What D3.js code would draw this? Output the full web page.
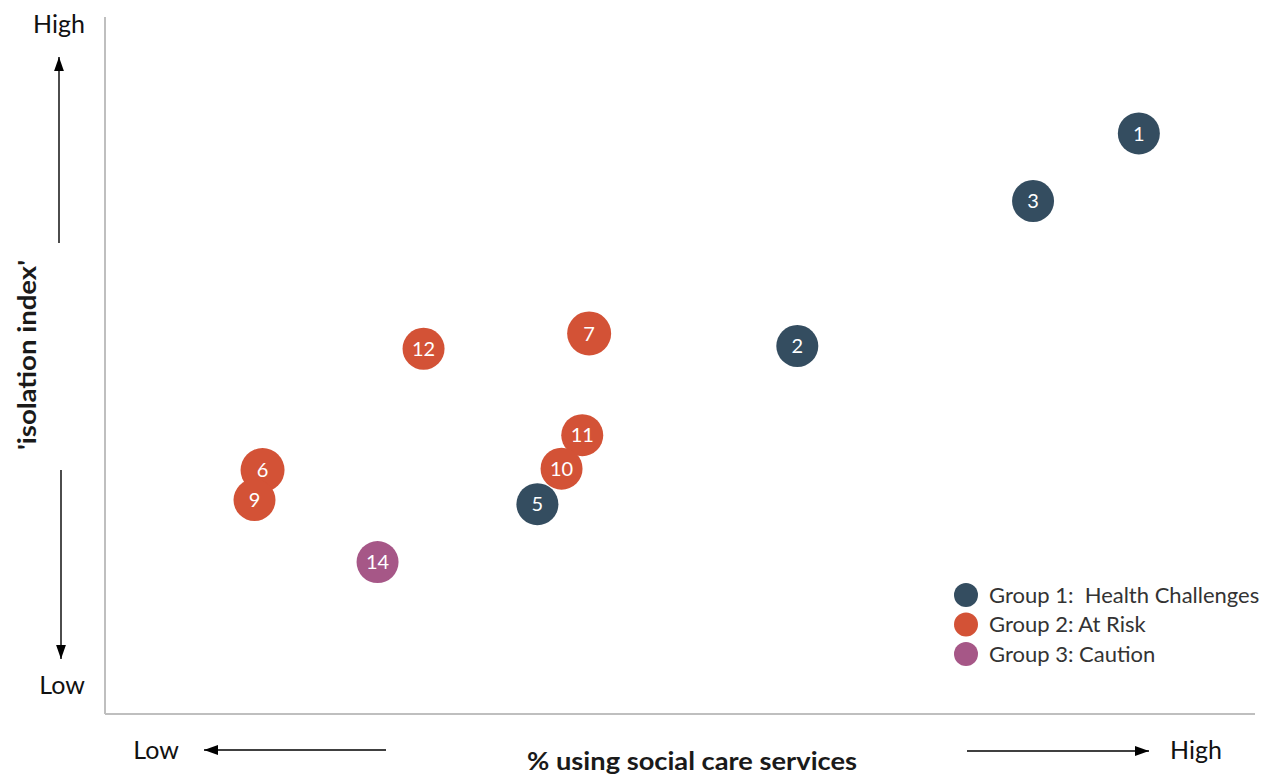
<!DOCTYPE html>
<html>
<head>
<meta charset="utf-8">
<script src="https://cdn.jsdelivr.net/npm/d3@7"></script>
<style>
  body { margin: 0; background: #fff; }
  text { font-family: Lato, "Open Sans", sans-serif; }
</style>
</head>
<body>
<div id="chart"></div>
<script>
// data (0-100 relative scales, no ticks shown)
var ids    = ["1", "3", "2", "7", "12", "11", "10", "5", "6", "9", "14"];
var xVals  = [89.9, 80.7, 60.2, 42.1, 27.7, 41.5, 39.7, 37.6, 13.7, 13.0, 23.7];
var yVals  = [83.3, 73.6, 52.8, 54.6, 52.4, 40.0, 35.2, 30.1, 35.0, 30.7, 21.8];
var groups = [1, 1, 1, 2, 2, 2, 2, 1, 2, 2, 3];
var sizes  = [21, 21, 21, 22, 21, 21, 21, 21, 22, 21, 21];

var groupNames  = ["Group 1:  Health Challenges", "Group 2: At Risk", "Group 3: Caution"];
var groupColors = ["#344d60", "#d35236", "#a65787"];

var W = 1277, H = 778;
var margin = {top: 17, right: 22, bottom: 64, left: 105};

var svg = d3.select("#chart")
  .append("svg")
    .attr("width", W)
    .attr("height", H);

var x = d3.scaleLinear().domain([0, 100]).range([margin.left, W - margin.right]);
var y = d3.scaleLinear().domain([0, 100]).range([H - margin.bottom, margin.top]);

// arrow marker
svg.append("defs").append("marker")
    .attr("id", "arrow")
    .attr("viewBox", "0 0 10 10")
    .attr("refX", 10).attr("refY", 5)
    .attr("markerWidth", 14).attr("markerHeight", 14)
    .attr("markerUnits", "userSpaceOnUse")
    .attr("orient", "auto")
  .append("path")
    .attr("d", "M0,1.5 L10,5 L0,8.5 Z")
    .attr("fill", "#000");

// axis lines (light gray, no ticks)
svg.append("line")
  .attr("x1", x(0)).attr("x2", x(0))
  .attr("y1", y(100)).attr("y2", y(0))
  .attr("stroke", "#bfbfbf").attr("stroke-width", 2);
svg.append("line")
  .attr("x1", x(0)).attr("x2", x(100))
  .attr("y1", y(0)).attr("y2", y(0))
  .attr("stroke", "#bfbfbf").attr("stroke-width", 2);

// direction arrows
function arrow(x1, y1, x2, y2) {
  svg.append("line")
    .attr("x1", x1).attr("y1", y1)
    .attr("x2", x2).attr("y2", y2)
    .attr("stroke", "#000").attr("stroke-width", 1.4)
    .attr("marker-end", "url(#arrow)");
}
arrow(59, 243, 59, 57);
arrow(61, 470, 61, 659);
arrow(386, 750, 204, 750);
arrow(967, 751, 1149, 751);

// Low / High labels
var lab = svg.append("g").attr("font-size", 25).attr("fill", "#111").attr("text-anchor", "middle");
lab.append("text").attr("x", 59).attr("y", 33).text("High");
lab.append("text").attr("x", 62).attr("y", 694).text("Low");
lab.append("text").attr("x", 156).attr("y", 759).text("Low");
lab.append("text").attr("x", 1196).attr("y", 759).text("High");

// axis titles
svg.append("text")
  .attr("x", 527).attr("y", 770)
  .attr("font-size", 24).attr("font-weight", "bold").attr("fill", "#1a1a1a")
  .attr("textLength", 330).attr("lengthAdjust", "spacingAndGlyphs")
  .text("% using social care services");
svg.append("text")
  .attr("transform", "translate(36,450) rotate(-90)")
  .attr("font-size", 24).attr("font-weight", "bold").attr("fill", "#1a1a1a")
  .attr("textLength", 190).attr("lengthAdjust", "spacingAndGlyphs")
  .text("'isolation index'");

// bubbles
var data = ids.map(function(d, i) {
  return {id: d, x: xVals[i], y: yVals[i], g: groups[i], r: sizes[i]};
});

var dots = svg.append("g").selectAll("g")
  .data(data)
  .enter().append("g")
    .attr("transform", function(d) { return "translate(" + x(d.x) + "," + y(d.y) + ")"; });

dots.append("circle")
  .attr("r", function(d) { return d.r; })
  .attr("fill", function(d) { return groupColors[d.g - 1]; });

dots.append("text")
  .attr("text-anchor", "middle")
  .attr("dy", "0.36em")
  .attr("font-size", 20)
  .attr("fill", "#fff")
  .text(function(d) { return d.id; });

// legend
var leg = svg.append("g").selectAll("g")
  .data(groupNames)
  .enter().append("g")
    .attr("transform", function(d, i) { return "translate(966," + (595 + i * 29.5) + ")"; });

leg.append("circle")
  .attr("r", 12)
  .attr("fill", function(d, i) { return groupColors[i]; });

leg.append("text")
  .attr("x", 23)
  .attr("dy", "0.36em")
  .attr("font-size", 22)
  .attr("fill", "#333")
  .style("white-space", "pre")
  .text(function(d) { return d; });
</script>
</body>
</html>
